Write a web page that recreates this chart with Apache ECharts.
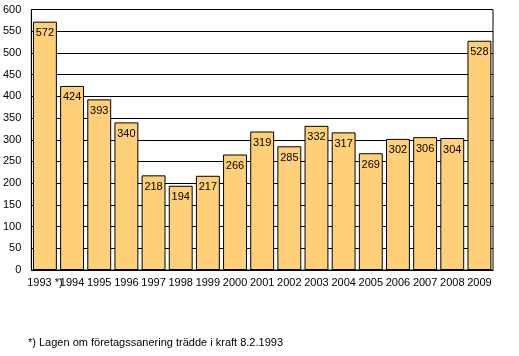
<!DOCTYPE html>
<html>
<head>
<meta charset="utf-8">
<script src="https://cdn.jsdelivr.net/npm/echarts@6/dist/echarts.min.js"></script>
<style>
html,body{margin:0;padding:0;background:#fff;}
#c{width:519px;height:356px;}
</style>
</head>
<body>
<div id="c"></div>
<script>
const categories = ["1993 *)", "1994", "1995", "1996", "1997", "1998", "1999", "2000", "2001", "2002", "2003", "2004", "2005", "2006", "2007", "2008", "2009"];
const values = [572, 424, 393, 340, 218, 194, 217, 266, 319, 285, 332, 317, 269, 302, 306, 304, 528];
const footnote = "*) Lagen om företagssanering trädde i kraft 8.2.1993";

const chart = echarts.init(document.getElementById('c'), null, {renderer: 'canvas'});
const font = 'Arial, "Liberation Sans", sans-serif';
chart.setOption({
  animation: false,
  backgroundColor: '#ffffff',
  grid: {left: 30, right: 26, top: 9.5, bottom: 86, show: true, borderColor: '#000', borderWidth: 1},
  graphic: [{
    type: 'text', left: 28, top: 337,
    style: {text: footnote, fill: '#000', font: '11px ' + font}
  }],
  xAxis: {
    type: 'category', data: categories,
    axisLine: {show: true, lineStyle: {color: '#000', width: 1}},
    axisTick: {show: false},
    axisLabel: {color: '#000', fontSize: 11, fontFamily: font, margin: 7, interval: 0}
  },
  yAxis: {
    type: 'value', min: 0, max: 600, interval: 50,
    axisLine: {show: true, lineStyle: {color: '#000'}},
    axisTick: {show: false},
    axisLabel: {color: '#000', fontSize: 11, fontFamily: font, margin: 10},
    splitLine: {show: true, lineStyle: {color: '#000', width: 1}}
  },
  series: [{
    type: 'bar', data: values, barCategoryGap: '12%',
    itemStyle: {color: '#FFD077', borderColor: '#000', borderWidth: 1},
    label: {show: true, position: 'insideTop', distance: 6, color: '#000', fontSize: 11, fontFamily: font}
  }]
});
</script>
</body>
</html>
